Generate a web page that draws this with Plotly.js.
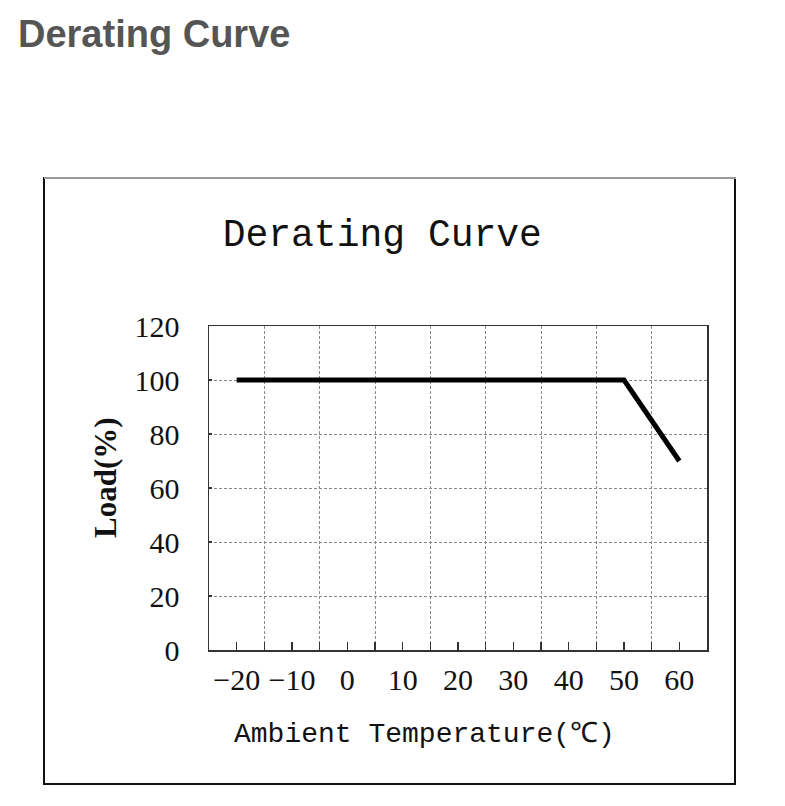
<!DOCTYPE html>
<html>
<head>
<meta charset="utf-8">
<script src="https://cdn.plot.ly/plotly-3.0.1.min.js"></script>
<style>
html, body { margin: 0; padding: 0; background: #fff; }
#chart { width: 785px; height: 806px; }
</style>
</head>
<body>
<div id="chart"></div>
<script>
// Data
const temperature = [-20, 50, 60];
const loadPercent = [100, 100, 70];
const xTickVals = [-20, -10, 0, 10, 20, 30, 40, 50, 60];
const xGridVals = [-15, -5, 5, 15, 25, 35, 45, 55];
const yTickVals = [0, 20, 40, 60, 80, 100, 120];
const pageHeading = 'Derating Curve';
const chartTitle = 'Derating Curve';
const xTitle = 'Ambient Temperature(℃)';
const yTitle = 'Load(%)';

const serif = '"Liberation Serif", "DejaVu Serif", serif';
const mono = '"Liberation Mono", "DejaVu Sans Mono", monospace';

const trace = {
  x: temperature,
  y: loadPercent,
  type: 'scatter',
  mode: 'lines',
  line: { color: '#000', width: 5, shape: 'linear' },
  hoverinfo: 'x+y',
  showlegend: false
};

const gridDash = '3px,2px';

const layout = {
  width: 785,
  height: 806,
  margin: { l: 209, r: 78, t: 326, b: 156 },
  paper_bgcolor: '#fff',
  plot_bgcolor: '#fff',
  title: {
    text: chartTitle,
    font: { family: mono, size: 38, color: '#111' },
    x: 0.487, xref: 'container', xanchor: 'center',
    y: 1 - 233 / 806, yref: 'container', yanchor: 'middle'
  },
  xaxis: {
    range: [-25, 65],
    tickmode: 'array',
    tickvals: xTickVals,
    ticktext: xTickVals.map(v => v < 0 ? '\u2212' + Math.abs(v) : String(v)),
    ticks: 'inside', ticklen: 8, tickwidth: 1.5, tickcolor: '#333',
    showgrid: false,
    zeroline: false,
    showline: true, linecolor: '#333', linewidth: 1.5, mirror: true,
    tickfont: { family: serif, size: 30, color: '#111' },
    ticklabelstandoff: 2,
    minor: {
      tickmode: 'array',
      tickvals: xGridVals,
      ticks: 'inside', ticklen: 8, tickwidth: 1.5, tickcolor: '#333',
      showgrid: true, gridcolor: '#888', gridwidth: 1, griddash: gridDash
    },
    fixedrange: true
  },
  yaxis: {
    range: [0, 120],
    tickmode: 'array',
    tickvals: yTickVals,
    ticks: 'inside', ticklen: 3, tickwidth: 1.5, tickcolor: '#333',
    showgrid: true, gridcolor: '#888', gridwidth: 1, griddash: gridDash,
    zeroline: false,
    showline: true, linecolor: '#333', linewidth: 1.5, mirror: true,
    tickfont: { family: serif, size: 30, color: '#111' },
    ticklabelstandoff: 22,
    fixedrange: true
  },
  annotations: [
    {
      text: '<b>' + pageHeading + '</b>',
      xref: 'paper', yref: 'paper',
      x: (16 - 209) / 498, y: (650 - 34) / 324,
      xanchor: 'left', yanchor: 'middle',
      showarrow: false,
      font: { family: '"Liberation Sans", Arial, sans-serif', size: 38, color: '#555' }
    },
    {
      text: xTitle,
      xref: 'paper', yref: 'paper',
      x: (424 - 209) / 498, y: (650 - 734) / 324,
      xanchor: 'center', yanchor: 'middle',
      showarrow: false,
      font: { family: mono, size: 28, color: '#111' }
    },
    {
      text: '<b>' + yTitle + '</b>',
      xref: 'paper', yref: 'paper',
      x: (105 - 209) / 498, y: (650 - 478) / 324,
      xanchor: 'center', yanchor: 'middle',
      textangle: -90,
      showarrow: false,
      font: { family: serif, size: 31, color: '#111' }
    }
  ],
  shapes: [
    {
      type: 'rect', xref: 'paper', yref: 'paper',
      x0: (44 - 209) / 498, x1: (735 - 209) / 498,
      y0: (650 - 784) / 324, y1: (650 - 178) / 324,
      line: { color: '#111', width: 2 }, fillcolor: 'rgba(0,0,0,0)', layer: 'below'
    },
    {
      type: 'line', xref: 'paper', yref: 'paper',
      x0: (44 - 209) / 498, x1: (736 - 209) / 498,
      y0: (650 - 178) / 324, y1: (650 - 178) / 324,
      line: { color: '#999', width: 2 }
    }
  ]
};

Plotly.newPlot('chart', [trace], layout, { displayModeBar: false, staticPlot: true });
</script>
</body>
</html>
